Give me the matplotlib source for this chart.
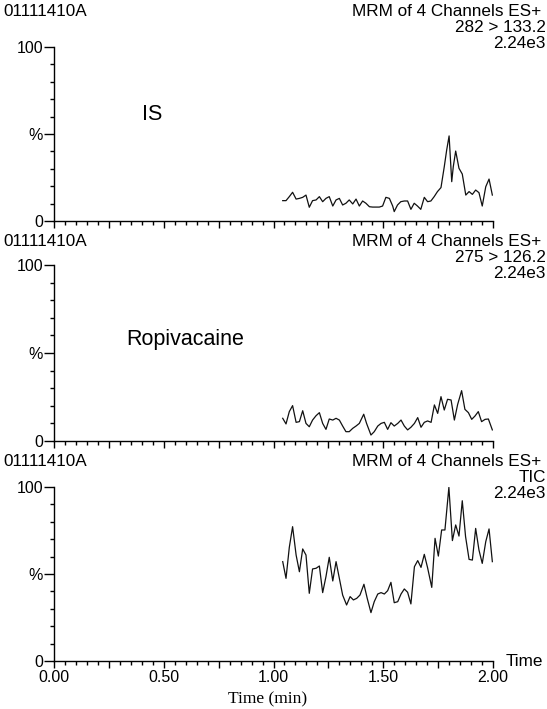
import matplotlib
matplotlib.use("Agg")
import matplotlib.pyplot as plt
from matplotlib.ticker import MultipleLocator, FixedLocator

plt.rcParams['font.family'] = ['Liberation Sans', 'DejaVu Sans']

W, H = 547, 709

# ---------------- data ----------------
is_time = [1.042, 1.057, 1.072, 1.087, 1.103, 1.118, 1.133, 1.148, 1.163, 1.178,
           1.194, 1.209, 1.224, 1.239, 1.254, 1.270, 1.285, 1.300, 1.315, 1.330,
           1.345, 1.361, 1.376, 1.391, 1.406, 1.421, 1.437, 1.452, 1.467, 1.482,
           1.497, 1.512, 1.528, 1.543, 1.550, 1.565, 1.580, 1.596, 1.611, 1.626,
           1.641, 1.656, 1.671, 1.687, 1.702, 1.717, 1.732, 1.747, 1.763, 1.778,
           1.789, 1.800, 1.812, 1.819, 1.830, 1.845, 1.860, 1.876, 1.891, 1.906,
           1.921, 1.936, 1.951, 1.967, 1.982, 1.997]
is_pct = [11.7, 11.7, 14.0, 16.5, 12.6, 13.0, 13.6, 14.9, 7.9, 11.7,
          12.1, 14.0, 11.1, 13.0, 14.0, 8.6, 12.1, 13.0, 9.2, 10.2,
          12.1, 9.8, 12.6, 8.6, 11.5, 10.2, 8.2, 8.0, 8.0, 8.0,
          8.6, 13.6, 13.0, 8.6, 5.4, 9.2, 11.1, 11.5, 11.5, 6.7,
          10.2, 8.6, 6.7, 13.6, 11.1, 11.5, 14.0, 16.9, 19.2, 31.2,
          40.8, 48.9, 22.6, 31.2, 40.2, 30.3, 27.0, 14.9, 16.9, 15.3,
          17.8, 16.3, 8.6, 19.7, 24.1, 14.9]

rop_time = [1.042, 1.057, 1.072, 1.087, 1.103, 1.118, 1.133, 1.148, 1.163, 1.178,
            1.194, 1.209, 1.224, 1.239, 1.254, 1.270, 1.285, 1.300, 1.315, 1.330,
            1.345, 1.361, 1.376, 1.391, 1.411, 1.424, 1.444, 1.459, 1.475, 1.490,
            1.505, 1.520, 1.535, 1.550, 1.566, 1.581, 1.596, 1.611, 1.626, 1.642,
            1.657, 1.672, 1.687, 1.702, 1.718, 1.733, 1.748, 1.763, 1.778, 1.793,
            1.809, 1.824, 1.839, 1.857, 1.872, 1.888, 1.903, 1.918, 1.933, 1.948,
            1.964, 1.979, 1.997]
rop_pct = [12.9, 9.7, 16.7, 20.1, 10.6, 11.0, 17.2, 10.0, 8.1, 11.9,
           14.4, 16.1, 10.0, 6.6, 12.5, 11.9, 12.9, 11.9, 8.5, 5.3,
           5.3, 7.2, 8.5, 10.0, 15.2, 10.0, 3.4, 5.3, 8.5, 10.0,
           10.6, 6.6, 10.4, 8.5, 10.0, 11.9, 8.5, 6.3, 7.8, 10.0,
           13.3, 7.8, 10.6, 11.4, 10.6, 20.5, 15.7, 25.2, 17.6, 23.7,
           23.3, 11.9, 20.8, 28.6, 18.0, 16.1, 12.3, 14.2, 16.7, 11.0,
           12.3, 12.5, 6.3]

tic_time = [1.042, 1.057, 1.072, 1.087, 1.103, 1.118, 1.133, 1.148, 1.163, 1.178,
            1.194, 1.209, 1.224, 1.239, 1.254, 1.270, 1.285, 1.300, 1.315, 1.333,
            1.349, 1.364, 1.379, 1.394, 1.412, 1.427, 1.444, 1.459, 1.475, 1.490,
            1.505, 1.520, 1.535, 1.550, 1.566, 1.581, 1.596, 1.611, 1.626, 1.642,
            1.657, 1.672, 1.687, 1.702, 1.721, 1.736, 1.751, 1.766, 1.781, 1.799,
            1.815, 1.830, 1.845, 1.860, 1.875, 1.891, 1.906, 1.921, 1.936, 1.951,
            1.967, 1.982, 1.997]
tic_pct = [57.1, 47.5, 65.3, 77.2, 60.9, 51.3, 64.4, 60.9, 38.9, 52.9,
           53.3, 54.6, 39.3, 48.5, 59.6, 46.0, 57.1, 47.5, 37.9, 32.2,
           37.0, 35.1, 36.0, 37.9, 44.1, 36.0, 27.8, 34.1, 38.5, 39.3,
           38.5, 40.4, 45.2, 33.5, 34.1, 38.5, 41.4, 39.5, 32.8, 54.2,
           57.7, 53.8, 61.3, 53.6, 42.3, 70.5, 60.3, 75.3, 75.3, 99.8,
           69.2, 78.2, 71.8, 92.1, 71.5, 58.4, 58.0, 76.2, 63.8, 56.1,
           68.6, 75.9, 57.1]

sample_id = "01111410A"
header = "MRM of 4 Channels ES+"
channels = ["282 > 133.2", "275 > 126.2", "TIC"]
intensity = ["2.24e3", "2.24e3", "2.24e3"]
compound = ["IS", "Ropivacaine", None]
x_major = [0.0, 0.25, 0.5, 0.75, 1.0, 1.25, 1.5, 1.75, 2.0]
x_labels = ["0.00", "", "0.50", "", "1.00", "", "1.50", "", "2.00"]
y_major = [0, 50, 100]
y_labels = ["0", "%", "100"]

series = [(is_time, is_pct), (rop_time, rop_pct), (tic_time, tic_pct)]

# ---------------- layout (pixel boxes) ----------------
panel_px = [(47, 221), (265, 441), (487, 661)]   # top, bottom of plot area
ax_left, ax_right = 54, 493
header_y = [12, 241, 461]
label_pos = [(152, 114), (185, 340), None]

fig = plt.figure(figsize=(W / 100, H / 100), dpi=100)
FS = 11.5
HFS = 12.3

def fx(px):
    return px / W

def fy(py):
    return 1 - py / H

for i, ((top, bot), (t, v)) in enumerate(zip(panel_px, series)):
    ax = fig.add_axes([fx(ax_left), fy(bot), fx(ax_right) - fx(ax_left), (bot - top) / H])
    ax.plot(t, v, color='#111111', lw=0.9)
    ax.set_xlim(0, 2)
    ax.set_ylim(0, 100)
    for s in ['top', 'right']:
        ax.spines[s].set_visible(False)
    for s in ['left', 'bottom']:
        ax.spines[s].set_linewidth(1.0)
        ax.spines[s].set_color('black')
    ax.xaxis.set_major_locator(FixedLocator(x_major))
    ax.xaxis.set_minor_locator(MultipleLocator(0.05))
    ax.yaxis.set_major_locator(FixedLocator(y_major))
    ax.yaxis.set_minor_locator(MultipleLocator(10))
    ax.set_yticklabels(y_labels, fontsize=FS)
    if i == 2:
        ax.set_xticklabels(x_labels, fontsize=FS)
    else:
        ax.set_xticklabels([])
    ax.tick_params(axis='y', which='major', length=7, width=1, pad=1, direction='out')
    ax.tick_params(axis='y', which='minor', length=3, width=1, direction='out')
    ax.tick_params(axis='x', which='major', length=5, width=1, pad=1.5, direction='out')
    ax.tick_params(axis='x', which='minor', length=3, width=1, direction='out')
    ax.patch.set_visible(False)

    # header texts
    hy = header_y[i]
    fig.text(fx(3), fy(hy), sample_id, fontsize=HFS, ha='left', va='center')
    fig.text(fx(541), fy(hy), header, fontsize=HFS, ha='right', va='center')
    fig.text(fx(546), fy(hy + 16), channels[i], fontsize=HFS, ha='right', va='center')
    fig.text(fx(546), fy(hy + 32), intensity[i], fontsize=HFS, ha='right', va='center')
    if compound[i] is not None:
        lx, ly = label_pos[i]
        fig.text(fx(lx), fy(ly), compound[i], fontsize=15.5, ha='center', va='center')

fig.text(fx(506), fy(662), "Time", fontsize=HFS, ha='left', va='center')
fig.text(fx(268), fy(699), "Time (min)", fontsize=12.5,
         family=['Liberation Serif', 'DejaVu Serif'], ha='center', va='center')

fig.savefig("out.png", dpi=100)
